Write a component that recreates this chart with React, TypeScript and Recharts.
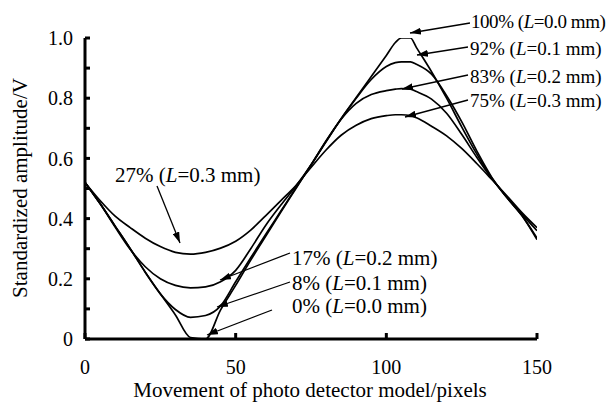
import React from 'react';
import { LineChart, Line, XAxis, YAxis } from 'recharts';

// Movement of photo detector model (pixels)
const xValues = [0, 5, 10, 15, 20, 25, 30, 35, 40, 45, 50, 55, 60, 65, 70, 75, 80, 85, 90, 95, 100, 103, 105, 108, 110, 115, 120, 125, 130, 135, 140, 145, 150];

// Standardized amplitude (V) for each defocus L
const ampL00 = [0.52, 0.45, 0.375, 0.3, 0.222, 0.15, 0.08, 0.005, 0.0, 0.097, 0.178, 0.262, 0.342, 0.422, 0.5, 0.578, 0.658, 0.732, 0.802, 0.872, 0.942, 0.985, 1.0, 1.0, 0.968, 0.888, 0.8, 0.705, 0.615, 0.535, 0.47, 0.41, 0.33];
const ampL01 = [0.52, 0.45, 0.375, 0.3, 0.222, 0.15, 0.098, 0.072, 0.078, 0.11, 0.19, 0.27, 0.348, 0.425, 0.502, 0.578, 0.658, 0.732, 0.8, 0.862, 0.905, 0.918, 0.921, 0.921, 0.913, 0.88, 0.808, 0.722, 0.625, 0.537, 0.47, 0.41, 0.335];
const ampL02 = [0.52, 0.45, 0.372, 0.298, 0.24, 0.2, 0.178, 0.17, 0.173, 0.19, 0.228, 0.3, 0.378, 0.445, 0.508, 0.578, 0.655, 0.73, 0.783, 0.812, 0.825, 0.83, 0.832, 0.83, 0.822, 0.797, 0.75, 0.68, 0.604, 0.533, 0.472, 0.415, 0.36];
const ampL03 = [0.52, 0.46, 0.408, 0.37, 0.335, 0.307, 0.288, 0.282, 0.288, 0.302, 0.325, 0.362, 0.41, 0.46, 0.51, 0.57, 0.628, 0.677, 0.71, 0.732, 0.742, 0.745, 0.745, 0.742, 0.735, 0.707, 0.675, 0.633, 0.583, 0.53, 0.476, 0.42, 0.37];

const xTicks = [0, 50, 100, 150];
const yTicks = [0, 0.1, 0.2, 0.3, 0.4, 0.5, 0.6, 0.7, 0.8, 0.9, 1.0];

const xTitle = 'Movement of photo detector model/pixels';
const yTitle = 'Standardized amplitude/V';

// Annotation texts: peak labels and valley labels
const peakPercents = ['100%', '92%', '83%', '75%'];
const peakL = ['0.0', '0.1', '0.2', '0.3'];
const valleyPercents = ['27%', '17%', '8%', '0%'];
const valleyL = ['0.3', '0.2', '0.1', '0.0'];

const rows = xValues.map((x, i) => ({
  x,
  l00: ampL00[i],
  l01: ampL01[i],
  l02: ampL02[i],
  l03: ampL03[i],
}));

const FONT = '"Liberation Serif", "Times New Roman", Times, serif';

// layout for annotations (text position + arrow from/to), pixels
const peakLayout = [
  { tx: 471, ty: 28, ls: -0.45, ax1: 470, ay1: 23, ax2: 410, ay2: 33 },
  { tx: 470, ty: 55, ls: 0, ax1: 468, ay1: 47, ax2: 417, ay2: 55 },
  { tx: 470, ty: 83, ls: 0, ax1: 468, ay1: 75, ax2: 402, ay2: 89 },
  { tx: 470, ty: 107, ls: 0, ax1: 468, ay1: 100, ax2: 405, ay2: 117 },
];
const valleyLayout = [
  { tx: 115, ty: 182, ax1: 157, ay1: 186, ax2: 180, ay2: 243 },
  { tx: 292, ty: 265, ax1: 290, ay1: 253, ax2: 220, ay2: 280 },
  { tx: 292, ty: 290, ax1: 290, ay1: 282, ax2: 217, ay2: 307 },
  { tx: 292, ty: 313, ax1: 272, ay1: 310, ax2: 207, ay2: 335 },
];

const yTickFormat = (v: number) => {
  const k = Math.round(v * 10);
  if (k % 2 !== 0) return '';
  return k === 0 ? '0' : (k / 10).toFixed(1);
};

const seriesKeys = ['l00', 'l01', 'l02', 'l03'];

export default function App() {
  return (
    <div style={{ position: 'absolute', left: 0, top: 0, width: 611, height: 402, background: '#fff', fontFamily: FONT }}>
      <style>{`.recharts-text, .recharts-cartesian-axis-tick-value { font-family: ${FONT}; }`}</style>
      <LineChart
        width={611}
        height={402}
        data={rows}
        margin={{ top: 38, right: 74, bottom: 23, left: 25 }}
        style={{ fontFamily: FONT }}
      >
        <XAxis
          type="number"
          dataKey="x"
          domain={[0, 150]}
          ticks={xTicks}
          interval={0}
          allowDataOverflow
          height={40}
          axisLine={{ stroke: '#000', strokeWidth: 3 }}
          tickLine={{ stroke: '#000', strokeWidth: 3 }}
          tickSize={-6}
          tickMargin={27}
          tick={{ fill: '#000', fontSize: 20, fontFamily: FONT }}
        />
        <YAxis
          type="number"
          domain={[0, 1]}
          ticks={yTicks}
          interval={0}
          allowDataOverflow
          width={60}
          axisLine={{ stroke: '#000', strokeWidth: 3 }}
          tickLine={{ stroke: '#000', strokeWidth: 3 }}
          tickSize={-5}
          tickMargin={17}
          tickFormatter={yTickFormat}
          tick={{ fill: '#000', fontSize: 20, fontFamily: FONT }}
        />
        {seriesKeys.map((k) => (
          <Line
            key={k}
            type="monotone"
            dataKey={k}
            stroke="#000"
            strokeWidth={1.7}
            dot={false}
            activeDot={false}
            isAnimationActive={false}
          />
        ))}
      </LineChart>
      <svg
        width={611}
        height={402}
        style={{ position: 'absolute', left: 0, top: 0, pointerEvents: 'none' }}
        fontFamily={FONT}
      >
        <defs>
          <marker
            id="ah"
            markerWidth="11"
            markerHeight="7"
            refX="11"
            refY="3.5"
            orient="auto"
            markerUnits="userSpaceOnUse"
          >
            <path d="M0,0 L11,3.5 L0,7 z" fill="#000" />
          </marker>
        </defs>
        {peakLayout.map((p, i) => (
          <g key={'p' + i}>
            <line x1={p.ax1} y1={p.ay1} x2={p.ax2} y2={p.ay2} stroke="#000" strokeWidth={1.3} markerEnd="url(#ah)" />
            <text x={p.tx} y={p.ty} fontSize={19} fill="#000" letterSpacing={p.ls}>
              {peakPercents[i]} (<tspan fontStyle="italic">L</tspan>={peakL[i]} mm)
            </text>
          </g>
        ))}
        {valleyLayout.map((p, i) => (
          <g key={'v' + i}>
            <line x1={p.ax1} y1={p.ay1} x2={p.ax2} y2={p.ay2} stroke="#000" strokeWidth={1.3} markerEnd="url(#ah)" />
            <text x={p.tx} y={p.ty} fontSize={21} fill="#000">
              {valleyPercents[i]} (<tspan fontStyle="italic">L</tspan>={valleyL[i]} mm)
            </text>
          </g>
        ))}
        <text x={310} y={397} fontSize={21} fill="#000" textAnchor="middle">{xTitle}</text>
        <text transform="rotate(-90)" x={-188} y={26.5} fontSize={21} fill="#000" textAnchor="middle">{yTitle}</text>
      </svg>
    </div>
  );
}
